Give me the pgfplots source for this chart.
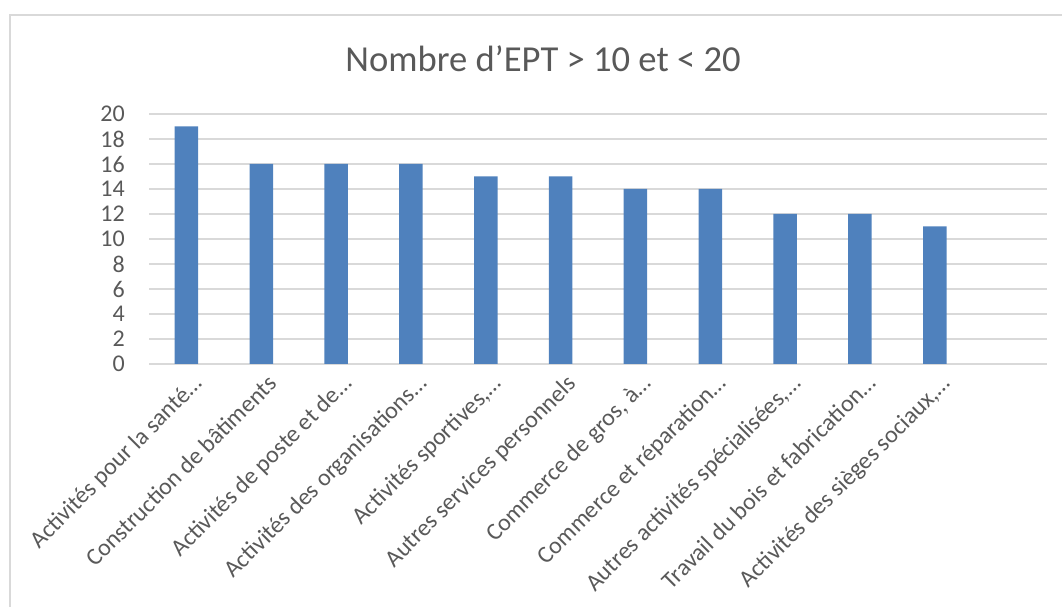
\documentclass[border=0pt]{standalone}
\usepackage{fontspec}
\setmainfont{Carlito}
\usepackage{pgfplots}
\pgfplotsset{compat=1.18}
\definecolor{barblue}{HTML}{4F81BD}
\definecolor{txtgray}{HTML}{595959}
\definecolor{gridgray}{HTML}{D9D9D9}
\begin{document}
\begin{tikzpicture}
  \useasboundingbox (0pt,0pt) rectangle (1062pt,607pt);
  % chart frame
  \draw[gridgray, line width=1.5pt] (10pt,0pt) -- (10pt,592pt) -- (1062pt,592pt);
  \node[txtgray, font=\fontsize{36.6}{40}\selectfont, anchor=base] at (543pt,535pt) {Nombre d’EPT > 10 et < 20};
  \begin{axis}[
      at={(149pt,243pt)}, anchor=south west,
      scale only axis,
      width=898pt, height=250pt,
      ybar, bar width=23.5pt,
      xmin=-0.5, xmax=11.5,
      ymin=0, ymax=20,
      ytick={0,2,...,20},
      xtick={0,...,10},
      xticklabels={
        {Activités pour la santé…},
        {Construction de bâtiments},
        {Activités de poste et de…},
        {Activités des organisations…},
        {Activités sportives,…},
        {Autres services personnels},
        {Commerce de gros, à…},
        {Commerce et réparation…},
        {Autres activités spécialisées,…},
        {Travail du bois et fabrication…},
        {Activités des sièges sociaux,…}
      },
      axis lines*=left,
      axis line style={draw=none},
      ymajorgrids,
      grid style={gridgray, line width=1.2pt},
      major tick length=0pt,
      tick label style={txtgray, font=\fontsize{24}{28}\selectfont},
      yticklabel style={inner sep=0pt, xshift=-24pt},
      xticklabel style={inner sep=0pt, xshift=17pt, yshift=-21pt, rotate=45, anchor=base east},
      /pgf/number format/assume math mode=true,
      clip=false
    ]
    \addplot[fill=barblue, draw=none] coordinates {
      (0,19) (1,16) (2,16) (3,16) (4,15) (5,15)
      (6,14) (7,14) (8,12) (9,12) (10,11)
    };
  \end{axis}
\end{tikzpicture}
\end{document}
